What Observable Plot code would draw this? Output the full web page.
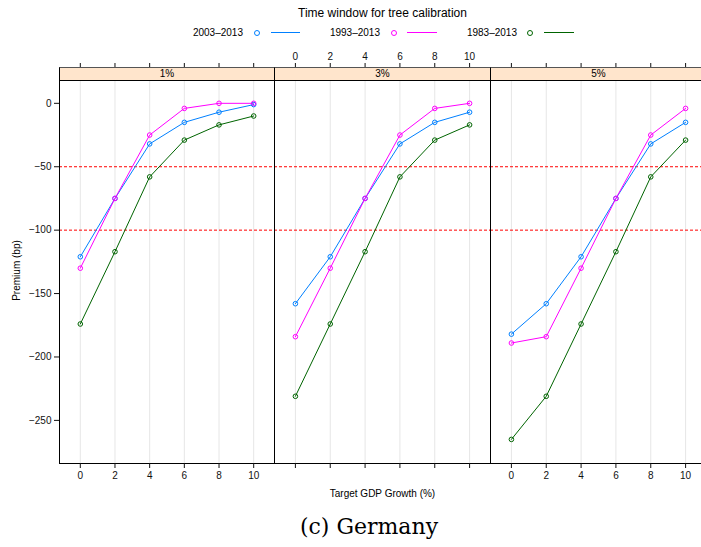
<!DOCTYPE html>
<html>
<head>
<meta charset="utf-8">
<script src="https://cdn.jsdelivr.net/npm/d3@7"></script>
<script src="https://cdn.jsdelivr.net/npm/@observablehq/plot@0.6"></script>
<style>
  html, body { margin: 0; padding: 0; background: #fff; overflow: hidden; }
  #chart { position: relative; width: 701px; height: 547px; overflow: hidden; font-family: "Liberation Sans", Arial, Helvetica, sans-serif; color: #000; }
  .abs { position: absolute; white-space: nowrap; }
  .strip { position: absolute; box-sizing: border-box; background: #ffe5cc; border: 1px solid #000; border-top-color: #555; font-size: 10px; line-height: 11px; text-align: center; }
  .lg-text { position: absolute; font-size: 10px; line-height: 12px; text-align: right; }
  .lg-dot { position: absolute; width: 4px; height: 4px; border-radius: 50%; border: 1px solid; }
  .lg-line { position: absolute; height: 0; border-top: 1px solid; }
</style>
</head>
<body>
<div id="chart"></div>
<script>
// ---- data ----
const growth = [0, 2, 4, 6, 8, 10];
const panels = ["1%", "3%", "5%"];
const windows = ["2003–2013", "1993–2013", "1983–2013"];
const colors = ["#0080ff", "#ff00ff", "#006400"];
const yTicks = [0, -50, -100, -150, -200, -250];
const refLines = [-50, -100];

// premium (bp) per panel, per time window, at growth 0..10
const p1_2003 = [-121, -75, -32, -15, -7, -1];
const p1_1993 = [-130, -75, -25, -4, 0, 0];
const p1_1983 = [-174, -117, -58, -29, -17, -10];
const p3_2003 = [-158, -121, -75, -32, -15, -7];
const p3_1993 = [-184, -130, -75, -25, -4, 0];
const p3_1983 = [-231, -174, -117, -58, -29, -17];
const p5_2003 = [-182, -158, -121, -75, -32, -15];
const p5_1993 = [-189, -184, -130, -75, -25, -4];
const p5_1983 = [-265, -231, -174, -117, -58, -29];

const series = {
  "1%": [p1_2003, p1_1993, p1_1983],
  "3%": [p3_2003, p3_1993, p3_1983],
  "5%": [p5_2003, p5_1993, p5_1983]
};

const chart = document.getElementById("chart");
function add(html) { chart.insertAdjacentHTML("beforeend", html); }

// ---- title + legend ----
add(`<div class="abs" style="left:0;width:765px;top:6px;text-align:center;font-size:12px;">Time window for tree calibration</div>`);
const lgTextRight = [243, 380, 517];
const lgDotX = [257, 394, 530];
const lgLine = [[271, 300], [407, 437], [544, 574]];
windows.forEach((w, i) => {
  add(`<div class="lg-text" style="left:${lgTextRight[i] - 80}px;width:80px;top:27px;">${w}</div>`);
  add(`<div class="lg-dot" style="left:${lgDotX[i] - 3}px;top:30px;border-color:${colors[i]};"></div>`);
  add(`<div class="lg-line" style="left:${lgLine[i][0]}px;width:${lgLine[i][1] - lgLine[i][0]}px;top:32px;border-color:${colors[i]};"></div>`);
});

// ---- panels ----
const frameX = [59, 274, 490, 706];
const svgTop = 44;
const mTop = 36, innerH = 383, mBottom = 40;

panels.forEach((p, pi) => {
  const rows = [];
  windows.forEach((w, wi) => {
    series[p][wi].forEach((v, gi) => rows.push({growth: growth[gi], premium: v, window: w}));
  });
  const ml = pi === 0 ? 59 : 1;
  const innerW = frameX[pi + 1] - frameX[pi];
  const left = frameX[pi] - ml;
  const tickOnly = () => "";
  const marks = [
    Plot.ruleX(growth, {stroke: "#e6e6e6", strokeWidth: 1}),
    Plot.ruleY(refLines, {stroke: "#ff0000", strokeDasharray: "3,2", strokeWidth: 1}),
    Plot.line(rows, {x: "growth", y: "premium", z: "window", stroke: "window", strokeWidth: 1}),
    Plot.dot(rows, {x: "growth", y: "premium", stroke: "window", fill: "none", r: 2.3, strokeWidth: 1}),
    Plot.frame({stroke: "#000", strokeWidth: 1}),
    Plot.axisX({anchor: "bottom", ticks: growth, tickSize: 5, tickPadding: 3, label: null,
      tickFormat: pi === 1 ? tickOnly : d => String(d)}),
    Plot.axisX({anchor: "top", ticks: growth, tickSize: 5, tickPadding: 3, label: null, dy: -13,
      tickFormat: pi === 1 ? d => String(d) : tickOnly})
  ];
  if (pi === 0) {
    marks.push(Plot.axisY({anchor: "left", ticks: yTicks, tickSize: 5, tickPadding: 3, label: null,
      tickFormat: d => d < 0 ? "\u2212" + Math.abs(d) : String(d)}));
  }
  const svg = Plot.plot({
    width: ml + innerW + 1,
    height: mTop + innerH + mBottom,
    marginLeft: ml,
    marginRight: 1,
    marginTop: mTop,
    marginBottom: mBottom,
    style: {fontSize: "10px", fontFamily: "'Liberation Sans', Arial, Helvetica, sans-serif", color: "#111", background: "transparent", overflow: "visible"},
    x: {domain: [-1.2, 11.2]},
    y: {domain: [-284, 18], axis: pi === 0 ? undefined : null},
    color: {domain: windows, range: colors},
    marks
  });
  svg.style.position = "absolute";
  svg.style.left = left + "px";
  svg.style.top = svgTop + "px";
  chart.appendChild(svg);
  add(`<div class="strip" style="left:${frameX[pi]}px;top:67px;width:${innerW + 1}px;height:14px;">${p}</div>`);
});

// ---- axis titles + caption ----
add(`<div class="abs" style="left:0;width:765px;top:488px;text-align:center;font-size:10px;">Target GDP Growth (%)</div>`);
add(`<div class="abs" style="left:-34px;top:265px;width:100px;text-align:center;font-size:10px;transform:rotate(-90deg);">Premium (bp)</div>`);
add(`<div class="abs" style="left:0;width:738px;top:514px;text-align:center;font-size:22px;font-family:'DejaVu Serif','Liberation Serif',serif;">(c) Germany</div>`);
</script>
</body>
</html>
